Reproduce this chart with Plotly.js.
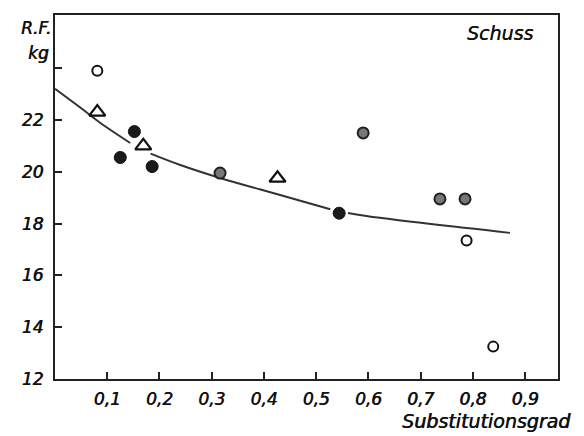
<!DOCTYPE html>
<html><head><meta charset="utf-8">
<script src="https://cdn.plot.ly/plotly-3.0.1.min.js"></script>
<style>html,body{margin:0;padding:0;background:#fff}</style>
</head><body><div id="chart" style="width:584px;height:436px"></div>
<script>
// Data
const openCircleX = [0.081, 0.788, 0.839];
const openCircleY = [23.9, 17.35, 13.25];
const triangleX = [0.081, 0.169, 0.426];
const triangleY = [22.3, 21.0, 19.75];
const blackX = [0.125, 0.152, 0.186, 0.544];
const blackY = [20.55, 21.55, 20.2, 18.4];
const greyX = [0.316, 0.590, 0.737, 0.785];
const greyY = [19.95, 21.5, 18.95, 18.95];
// fitted curve (hand drawn, with breaks at markers)
const curveX = [0, 0.054, 0.087, 0.144, null, 0.183, 0.240, 0.316, 0.431, 0.527, null, 0.561, 0.622, 0.871];
const curveY = [23.2, 22.39, 21.88, 21.11, null, 20.7, 20.26, 19.76, 19.10, 18.55, null, 18.41, 18.22, 17.64];
const xTickVals = [0.1, 0.2, 0.3, 0.4, 0.5, 0.6, 0.7, 0.8, 0.9];
const xTickText = ['0,1', '0,2', '0,3', '0,4', '0,5', '0,6', '0,7', '0,8', '0,9'];
const yTickVals = [12, 14, 16, 18, 20, 22, 24];
const yTickText = ['12', '14', '16', '18', '20', '22', ''];

const fnt = {family: 'DejaVu Sans, sans-serif', size: 17, color: '#111', style: 'italic', shadow: '0.6px 0 0 #111'};
const traces = [
  {x: curveX, y: curveY, mode: 'lines', line: {color: '#333', width: 2, shape: 'spline'}, connectgaps: false, hoverinfo: 'skip'},
  {x: openCircleX, y: openCircleY, mode: 'markers', marker: {symbol: 'circle-open', size: 10, color: '#111', line: {width: 2, color: '#111'}}},
  {x: triangleX, y: triangleY, mode: 'markers', marker: {symbol: 'triangle-up-open', size: 14, color: '#111', line: {width: 2.2, color: '#111'}}},
  {x: blackX, y: blackY, mode: 'markers', marker: {symbol: 'circle', size: 12, color: '#1a1a1a', line: {width: 1, color: '#111'}}},
  {x: greyX, y: greyY, mode: 'markers', marker: {symbol: 'circle', size: 11, color: '#777', line: {width: 2, color: '#222'}}}
];
const layout = {
  width: 584, height: 436,
  margin: {l: 55, r: 26, t: 15, b: 57},
  paper_bgcolor: '#fff', plot_bgcolor: '#fff',
  showlegend: false,
  font: fnt,
  xaxis: {range: [0, 0.963], tickvals: xTickVals, ticktext: xTickText, ticks: 'inside', ticklen: 7, tickwidth: 2, tickcolor: '#222',
    showline: true, linewidth: 2.2, linecolor: '#222', mirror: true, showgrid: false, zeroline: false, tickfont: fnt, ticklabelstandoff: 3},
  yaxis: {range: [12, 26.05], tickvals: yTickVals, ticktext: yTickText, ticks: 'inside', ticklen: 7, tickwidth: 2, tickcolor: '#222',
    showline: true, linewidth: 2.2, linecolor: '#222', mirror: true, showgrid: false, zeroline: false, tickfont: fnt, ticklabelstandoff: 6},
  annotations: [
    {xref: 'paper', yref: 'paper', x: -0.004, y: 0.965, xanchor: 'right', yanchor: 'middle', text: 'R.F.', showarrow: false, font: fnt},
    {xref: 'paper', yref: 'paper', x: -0.008, y: 0.895, xanchor: 'right', yanchor: 'middle', text: 'kg', showarrow: false, font: fnt},
    {xref: 'paper', yref: 'paper', x: 0.955, y: 0.95, xanchor: 'right', yanchor: 'middle', text: 'Schuss', showarrow: false, font: Object.assign({}, fnt, {size: 19, shadow: '0.3px 0 0 #111'})},
    {xref: 'paper', yref: 'paper', x: 1.03, y: -0.115, xanchor: 'right', yanchor: 'middle', text: 'Substitutionsgrad', showarrow: false, font: Object.assign({}, fnt, {size: 19})}
  ]
};
Plotly.newPlot('chart', traces, layout, {displayModeBar: false, staticPlot: true});
</script></body></html>
